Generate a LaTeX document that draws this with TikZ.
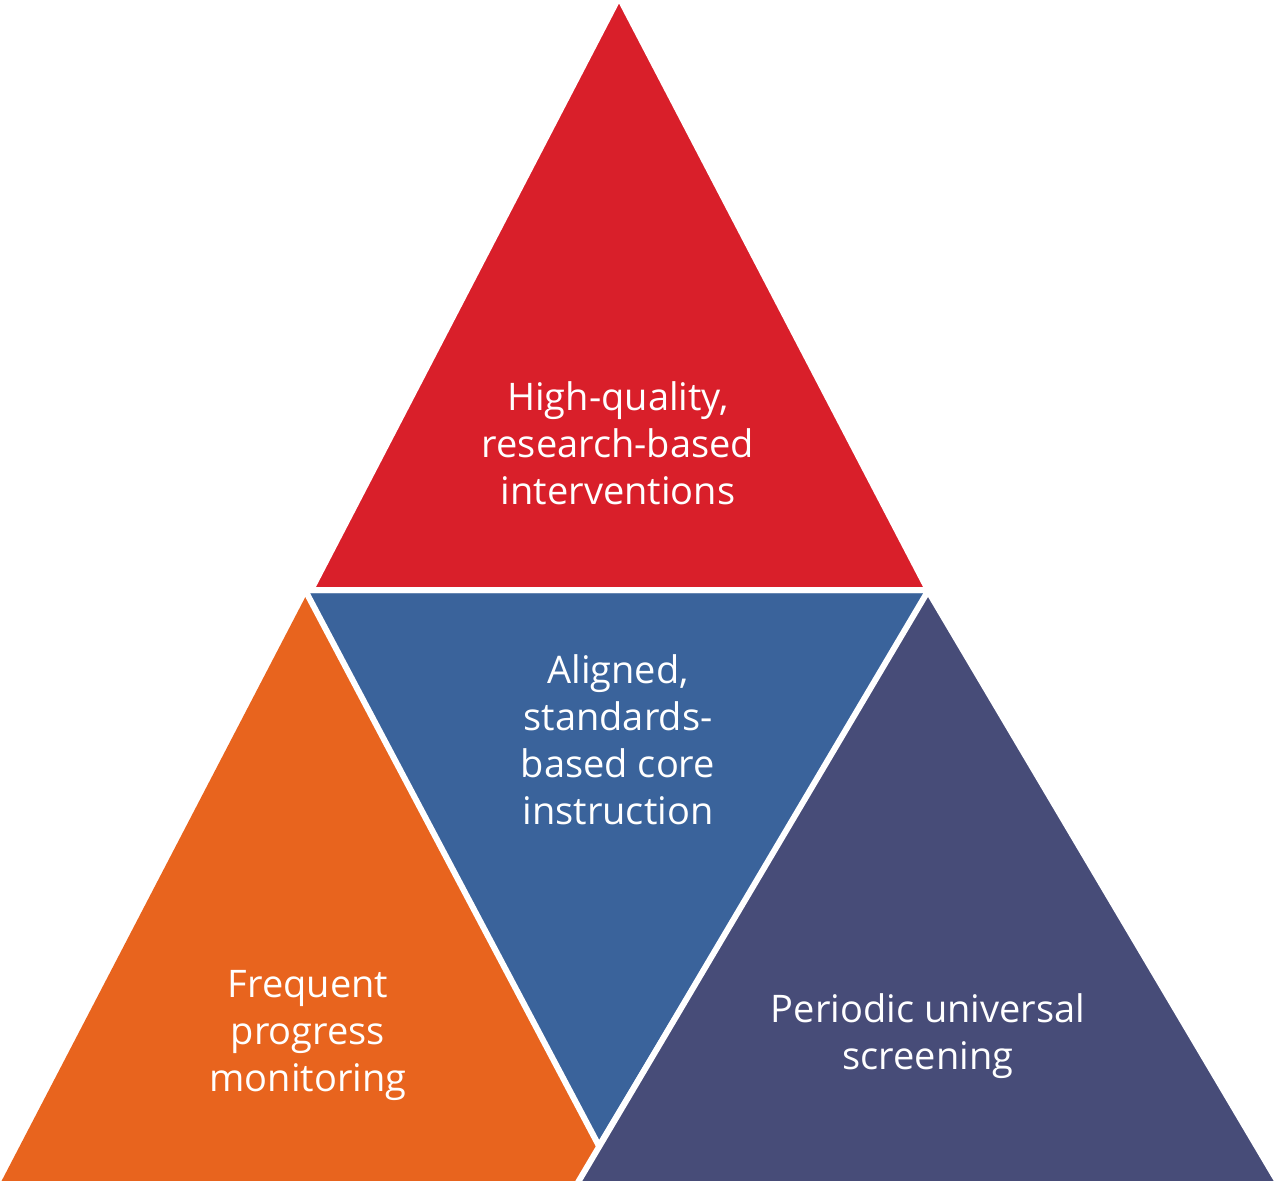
\documentclass[tikz,border=0pt]{standalone}
\usepackage{fontspec}
\setmainfont{Open Sans}[Ligatures=NoCommon]
\definecolor{cred}{HTML}{D91F2A}
\definecolor{cblue}{HTML}{3A639B}
\definecolor{corange}{HTML}{E8641E}
\definecolor{cpurple}{HTML}{474C78}
\begin{document}
\begin{tikzpicture}[x=1pt,y=-1pt,
  tri/.style={draw=white,line width=6pt,line join=miter},
  lbl/.style={text=white,align=center,font=\fontsize{38}{47}\selectfont,inner sep=0pt}]
\useasboundingbox (0,0) rectangle (1276,1180);
\fill[corange] (309,590) -- (0,1184) -- (620,1184) -- cycle;
\path[tri,fill=cblue] (305,590) -- (932,590) -- (599,1146) -- cycle;
\path[tri,fill=cpurple] (928,591) -- (577,1184) -- (1279,1184) -- cycle;
\path[tri,fill=cred] (619,-3) -- (311,590) -- (928,590) -- cycle;
\node[lbl] (red) at (618,443) {High-quality,\\research-based\\interventions};
\node[lbl] (blue) at (618,740) {Aligned,\\standards-\\based core\\instruction};
\node[lbl] (orange) at (308,1035) {Frequent\\progress\\monitoring};
\node[lbl] (purple) at (928,1036) {Periodic universal\\screening};
\end{tikzpicture}
\end{document}
